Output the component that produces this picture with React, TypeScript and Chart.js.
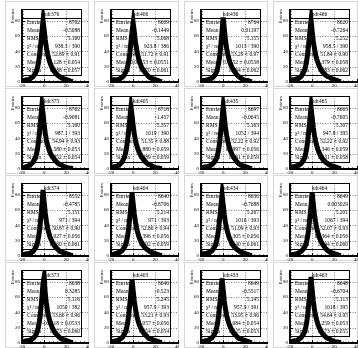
import React, { useEffect, useRef } from 'react';
import { Chart, registerables } from 'chart.js';

Chart.register(...registerables);

// ---------------- data ----------------
const X_BINS = [-20, -18, -16, -14, -12, -10, -8, -7, -6, -5, -4, -3, -2, -1, 0, 1, 2, 3, 4, 5, 6, 7, 8, 10, 12, 14, 16, 18, 20, 22, 24, 26];
const X_TICKS = [-20, 0, 20, 40];
const Y_TICKS = [0, 20, 40, 60, 80];
const X_RANGE = [-20, 40];
const Y_RANGE = [0, 95];

const H0 = [2, 2, 3, 3, 5, 7, 11, 14, 19, 26, 37, 51, 66, 80, 68, 55, 45, 37, 31, 26, 22, 19, 16, 12, 9, 7, 5, 4, 3, 2, 1, 0.5];
const H1 = [2, 3, 3, 3, 4, 6, 9, 12, 15, 20, 27, 38, 52, 66, 77, 66, 53, 44, 36, 30, 25, 21, 18, 14, 10, 7, 5, 4, 3, 2, 1, 0.5];
const H2 = [1, 2, 2, 3, 4, 5, 8, 10, 13, 18, 25, 35, 50, 66, 84, 70, 56, 45, 37, 31, 26, 22, 19, 14, 10, 7, 5, 3, 2, 2, 1, 0.5];
const H3 = [2, 3, 3, 4, 5, 7, 12, 15, 20, 27, 38, 52, 67, 80, 66, 53, 44, 36, 30, 26, 22, 19, 16, 12, 9, 7, 6, 4, 3, 2, 1, 0.5];
const H4 = [2, 2, 3, 4, 6, 9, 14, 19, 26, 37, 52, 67, 83, 72, 58, 46, 38, 32, 27, 23, 19, 17, 15, 11, 8, 6, 5, 3, 2, 1.5, 1, 0.5];
const H5 = [2, 3, 3, 4, 6, 9, 15, 20, 27, 38, 51, 66, 80, 70, 56, 46, 38, 32, 27, 23, 20, 17, 15, 11, 8, 6, 5, 3, 2, 1.5, 1, 0.5];
const H6 = [2, 2, 3, 3, 4, 6, 9, 11, 14, 19, 26, 37, 51, 66, 81, 68, 55, 45, 37, 31, 26, 22, 19, 14, 10, 7, 5, 4, 3, 2, 1, 0.5];
const H7 = [2, 3, 3, 4, 5, 7, 11, 14, 19, 26, 37, 50, 66, 80, 67, 54, 44, 37, 31, 26, 22, 19, 16, 12, 9, 7, 5, 4, 3, 2, 1, 0.5];
const H8 = [2, 2, 3, 3, 4, 6, 10, 13, 18, 25, 36, 50, 67, 86, 70, 56, 45, 37, 31, 26, 22, 19, 16, 12, 9, 6, 5, 4, 3, 2, 1, 0.5];
const H9 = [2, 2, 3, 4, 5, 7, 11, 14, 19, 26, 37, 51, 66, 82, 68, 55, 45, 37, 31, 26, 22, 19, 16, 12, 9, 7, 5, 4, 3, 2, 1, 0.5];
const H10 = [2, 3, 3, 4, 5, 7, 11, 14, 19, 26, 37, 51, 66, 80, 67, 54, 44, 37, 31, 26, 22, 19, 16, 12, 9, 7, 5, 4, 3, 2, 1, 0.5];
const H11 = [1, 2, 2, 3, 4, 6, 9, 11, 14, 19, 26, 37, 51, 66, 82, 68, 55, 45, 37, 31, 26, 22, 19, 14, 10, 7, 5, 4, 3, 2, 1, 0.5];
const H12 = [2, 2, 3, 3, 4, 6, 9, 12, 16, 22, 31, 44, 60, 78, 86, 64, 52, 42, 35, 29, 25, 21, 18, 13, 10, 7, 5, 4, 3, 2, 1, 0.5];
const H13 = [2, 2, 3, 3, 5, 7, 11, 14, 19, 26, 37, 51, 67, 83, 68, 55, 45, 37, 31, 26, 22, 19, 16, 12, 9, 6, 5, 4, 3, 2, 1, 0.5];
const H14 = [2, 2, 3, 3, 5, 7, 11, 14, 19, 26, 37, 51, 67, 84, 69, 55, 45, 37, 31, 26, 22, 19, 16, 12, 9, 6, 5, 4, 3, 2, 1, 0.5];
const H15 = [2, 2, 3, 3, 5, 7, 11, 14, 19, 26, 37, 52, 68, 86, 69, 55, 44, 36, 30, 25, 21, 18, 15, 11, 8, 6, 5, 3, 2, 1.5, 1, 0.5];
const HISTS = [H0, H1, H2, H3, H4, H5, H6, H7, H8, H9, H10, H11, H12, H13, H14, H15];

const NAMES = ['hdt376', 'hdt406', 'hdt436', 'hdt466', 'hdt375', 'hdt405', 'hdt435', 'hdt465', 'hdt374', 'hdt404', 'hdt434', 'hdt464', 'hdt373', 'hdt403', 'hdt433', 'hdt463'];
const STAT_LABELS = ['Entries', 'Mean', 'RMS', 'χ² / ndf', 'Constant', 'Mean', 'Sigma'];
const ENTRIES = ['8702', '8609', '8764', '8620', '8762', '8718', '8697', '8663', '8552', '8640', '8636', '8649', '8638', '8646', '8649', '8648'];
const MEANS = ['-0.5088', '-0.1449', '0.01197', '-0.7264', '-0.9081', '-1.457', '-0.0645', '-0.7605', '-0.4785', '-0.8706', '-0.7688', '0.003029', '0.3285', '-0.523', '-0.5517', '-0.6704'];
const RMSS = ['5.160', '5.068', '5.155', '5.252', '5.160', '5.357', '5.163', '5.307', '5.151', '5.214', '5.267', '5.201', '5.116', '5.245', '5.145', '5.113'];
const CHI2 = ['938.3 / 390', '923.8 / 386', '1013 / 390', '958.5 / 390', '987.1 / 393', '1019 / 390', '1052 / 394', '947.8 / 395', '971 / 394', '971 / 393', '1016 / 393', '1067 / 394', '1050 / 382', '957.9 / 393', '957.9 / 391', '1018 / 395'];
const CONSTS = ['52.89 ± 0.91', '51.72 ± 0.91', '53.29 ± 0.97', '51.84 ± 0.90', '54.94 ± 0.93', '51.35 ± 0.88', '52.22 ± 0.92', '52.22 ± 0.92', '50.87 ± 0.90', '52.86 ± 0.94', '51.09 ± 0.93', '52.07 ± 0.93', '53.66 ± 0.96', '53.21 ± 0.93', '53.95 ± 0.96', '54.64 ± 0.95'];
const FIT_MEANS = ['-1.128 ± 0.054', '0.06853 ± 0.0551', '0.4452 ± 0.0558', '-1.379 ± 0.058', '-1.580 ± 0.053', '-1.880 ± 0.059', '0.3997 ± 0.056', '-1.346 ± 0.059', '-1.027 ± 0.056', '-1.396 ± 0.056', '-1.305 ± 0.056', '0.4364 ± 0.056', '-0.2618 ± 0.0533', '-1.057 ± 0.056', '-1.084 ± 0.054', '-1.259 ± 0.053'];
const SIGMAS = ['1.388 ± 0.057', '1.470 ± 0.061', '1.334 ± 0.062', '1.483 ± 0.062', '1.252 ± 0.054', '1.489 ± 0.059', '1.431 ± 0.059', '1.431 ± 0.058', '1.460 ± 0.061', '1.392 ± 0.059', '1.440 ± 0.061', '1.344 ± 0.060', '1.273 ± 0.060', '1.354 ± 0.054', '1.325 ± 0.053', '1.173 ± 0.055'];
const Y_TITLE = 'Entries';

// ---------------- layout / style ----------------
const PAD_LEFTS = [0, 89, 179, 268];
const PAD_WIDTHS = [89, 90, 89, 90];
const PAD_H = 87;
const FRAME_L = 22;
const FRAME_R = 88.5;
const FRAME_T = 9;
const FRAME_B = 82;
const STAT_W = 59;
const STAT_TITLE_H = 9;
const STAT_ROW_H = 8;
const SERIF = '"Liberation Serif", "DejaVu Serif", serif';

function makePlugin(idx: number) {
  return {
    id: 'rootpad',
    beforeDraw(chart: any) {
      const ctx = chart.ctx as CanvasRenderingContext2D;
      ctx.save();
      ctx.fillStyle = '#ffffff';
      ctx.fillRect(0, 0, chart.width, chart.height);
      ctx.strokeStyle = '#d6d6d6';
      ctx.lineWidth = 1;
      ctx.strokeRect(5.5, 1.5, chart.width - 6, chart.height - 2);
      ctx.restore();
    },
    beforeDatasetsDraw(chart: any) {
      const ctx = chart.ctx as CanvasRenderingContext2D;
      const xs = chart.scales.x;
      const ys = chart.scales.y;
      const { left, right, top, bottom } = chart.chartArea;
      ctx.save();
      // dotted grid
      ctx.strokeStyle = '#808080';
      ctx.lineWidth = 1;
      ctx.setLineDash([1, 1.5]);
      for (const t of X_TICKS) {
        const px = Math.round(xs.getPixelForValue(t)) + 0.5;
        if (px > left + 2 && px < right - 1) {
          ctx.beginPath(); ctx.moveTo(px, top); ctx.lineTo(px, bottom); ctx.stroke();
        }
      }
      for (const t of Y_TICKS) {
        const py = Math.round(ys.getPixelForValue(t)) + 0.5;
        if (py > top + 1 && py < bottom - 2) {
          ctx.beginPath(); ctx.moveTo(left, py); ctx.lineTo(right, py); ctx.stroke();
        }
      }
      ctx.setLineDash([]);
      // stats box (transparent)
      const bx0 = Math.round(left);
      const bx1 = bx0 + STAT_W;
      const by0 = Math.round(top);
      const by1 = by0 + STAT_TITLE_H + STAT_ROW_H * STAT_LABELS.length + 1;
      ctx.strokeStyle = '#000';
      ctx.lineWidth = 1;
      ctx.strokeRect(bx0 + 0.5, by0 + 0.5, bx1 - bx0, by1 - by0);
      ctx.beginPath();
      ctx.moveTo(bx0, by0 + STAT_TITLE_H + 0.5);
      ctx.lineTo(bx1 + 0.5, by0 + STAT_TITLE_H + 0.5);
      ctx.stroke();
      ctx.fillStyle = '#000';
      ctx.font = `5.5px ${SERIF}`;
      ctx.textBaseline = 'middle';
      ctx.textAlign = 'center';
      ctx.fillText(NAMES[idx], (bx0 + bx1) / 2, by0 + STAT_TITLE_H / 2 + 0.8);
      const vals = [ENTRIES[idx], MEANS[idx], RMSS[idx], CHI2[idx], CONSTS[idx], FIT_MEANS[idx], SIGMAS[idx]];
      STAT_LABELS.forEach((lab, i) => {
        const cy = by0 + STAT_TITLE_H + STAT_ROW_H * (i + 0.5) + 1;
        ctx.textAlign = 'left';
        ctx.fillText(lab, bx0 + 5, cy);
        ctx.textAlign = 'right';
        ctx.fillText(vals[i], bx1 - 1, cy);
      });
      ctx.restore();
    },
    afterDatasetsDraw(chart: any) {
      const ctx = chart.ctx as CanvasRenderingContext2D;
      const xs = chart.scales.x;
      const ys = chart.scales.y;
      const { left, right, top, bottom } = chart.chartArea;
      ctx.save();
      ctx.fillStyle = '#000';
      // axes lines
      ctx.fillRect(Math.round(left) - 1, Math.round(top), 2, Math.round(bottom - top) + 1);
      ctx.fillRect(Math.round(left) - 1, Math.round(bottom) - 1, Math.round(right - left) + 2, 2);
      ctx.strokeStyle = '#000';
      ctx.lineWidth = 1;
      // x ticks
      for (let v = X_RANGE[0]; v <= X_RANGE[1]; v += 4) {
        const px = Math.round(xs.getPixelForValue(v)) + 0.5;
        const major = X_TICKS.includes(v);
        ctx.beginPath(); ctx.moveTo(px, bottom); ctx.lineTo(px, bottom - (major ? 3 : 1.5)); ctx.stroke();
      }
      // y ticks
      for (let v = Y_RANGE[0]; v <= Y_RANGE[1]; v += 4) {
        const py = Math.round(ys.getPixelForValue(v)) + 0.5;
        const major = Y_TICKS.includes(v);
        ctx.beginPath(); ctx.moveTo(left, py); ctx.lineTo(left + (major ? 3 : 1.5), py); ctx.stroke();
      }
      // labels
      ctx.font = `5px ${SERIF}`;
      ctx.textAlign = 'center';
      ctx.textBaseline = 'top';
      for (const t of X_TICKS) {
        ctx.fillText(String(t), xs.getPixelForValue(t), bottom + 1.5);
      }
      ctx.textAlign = 'right';
      ctx.textBaseline = 'middle';
      for (const t of Y_TICKS) {
        ctx.fillText(String(t), left - 2, ys.getPixelForValue(t));
      }
      // y title
      ctx.translate(13, top);
      ctx.rotate(-Math.PI / 2);
      ctx.textAlign = 'right';
      ctx.textBaseline = 'middle';
      ctx.font = `5px ${SERIF}`;
      ctx.fillText(Y_TITLE, 0, 0);
      ctx.restore();
    },
  };
}

function Pad({ idx }: { idx: number }) {
  const ref = useRef<HTMLCanvasElement>(null);
  const col = idx % 4;
  const row = Math.floor(idx / 4);
  const w = PAD_WIDTHS[col];
  useEffect(() => {
    if (!ref.current) return;
    const chart = new Chart(ref.current, {
      type: 'line',
      data: {
        datasets: [
          {
            data: X_BINS.map((x, i) => ({ x, y: HISTS[idx][i] })),
            borderColor: '#000',
            borderWidth: 5,
            pointRadius: 0,
            tension: 0,
            fill: false,
          },
        ],
      },
      options: {
        responsive: false,
        animation: false,
        devicePixelRatio: 1,
        events: [],
        layout: { padding: { left: FRAME_L, right: w - FRAME_R, top: FRAME_T, bottom: PAD_H - FRAME_B } },
        scales: {
          x: { type: 'linear', min: X_RANGE[0], max: X_RANGE[1], display: false },
          y: { type: 'linear', min: Y_RANGE[0], max: Y_RANGE[1], display: false },
        },
        plugins: { legend: { display: false }, tooltip: { enabled: false }, title: { display: false } },
      } as any,
      plugins: [makePlugin(idx) as any],
    });
    return () => chart.destroy();
  }, [idx, w]);
  return (
    <canvas
      ref={ref}
      width={w}
      height={PAD_H}
      style={{ position: 'absolute', left: PAD_LEFTS[col], top: row * PAD_H, width: w, height: PAD_H, display: 'block' }}
    />
  );
}

export default function App() {
  return (
    <div style={{ position: 'absolute', left: 0, top: 0, width: 358, height: 348, background: '#fff', overflow: 'hidden' }}>
      {NAMES.map((_, i) => (
        <Pad key={i} idx={i} />
      ))}
    </div>
  );
}
